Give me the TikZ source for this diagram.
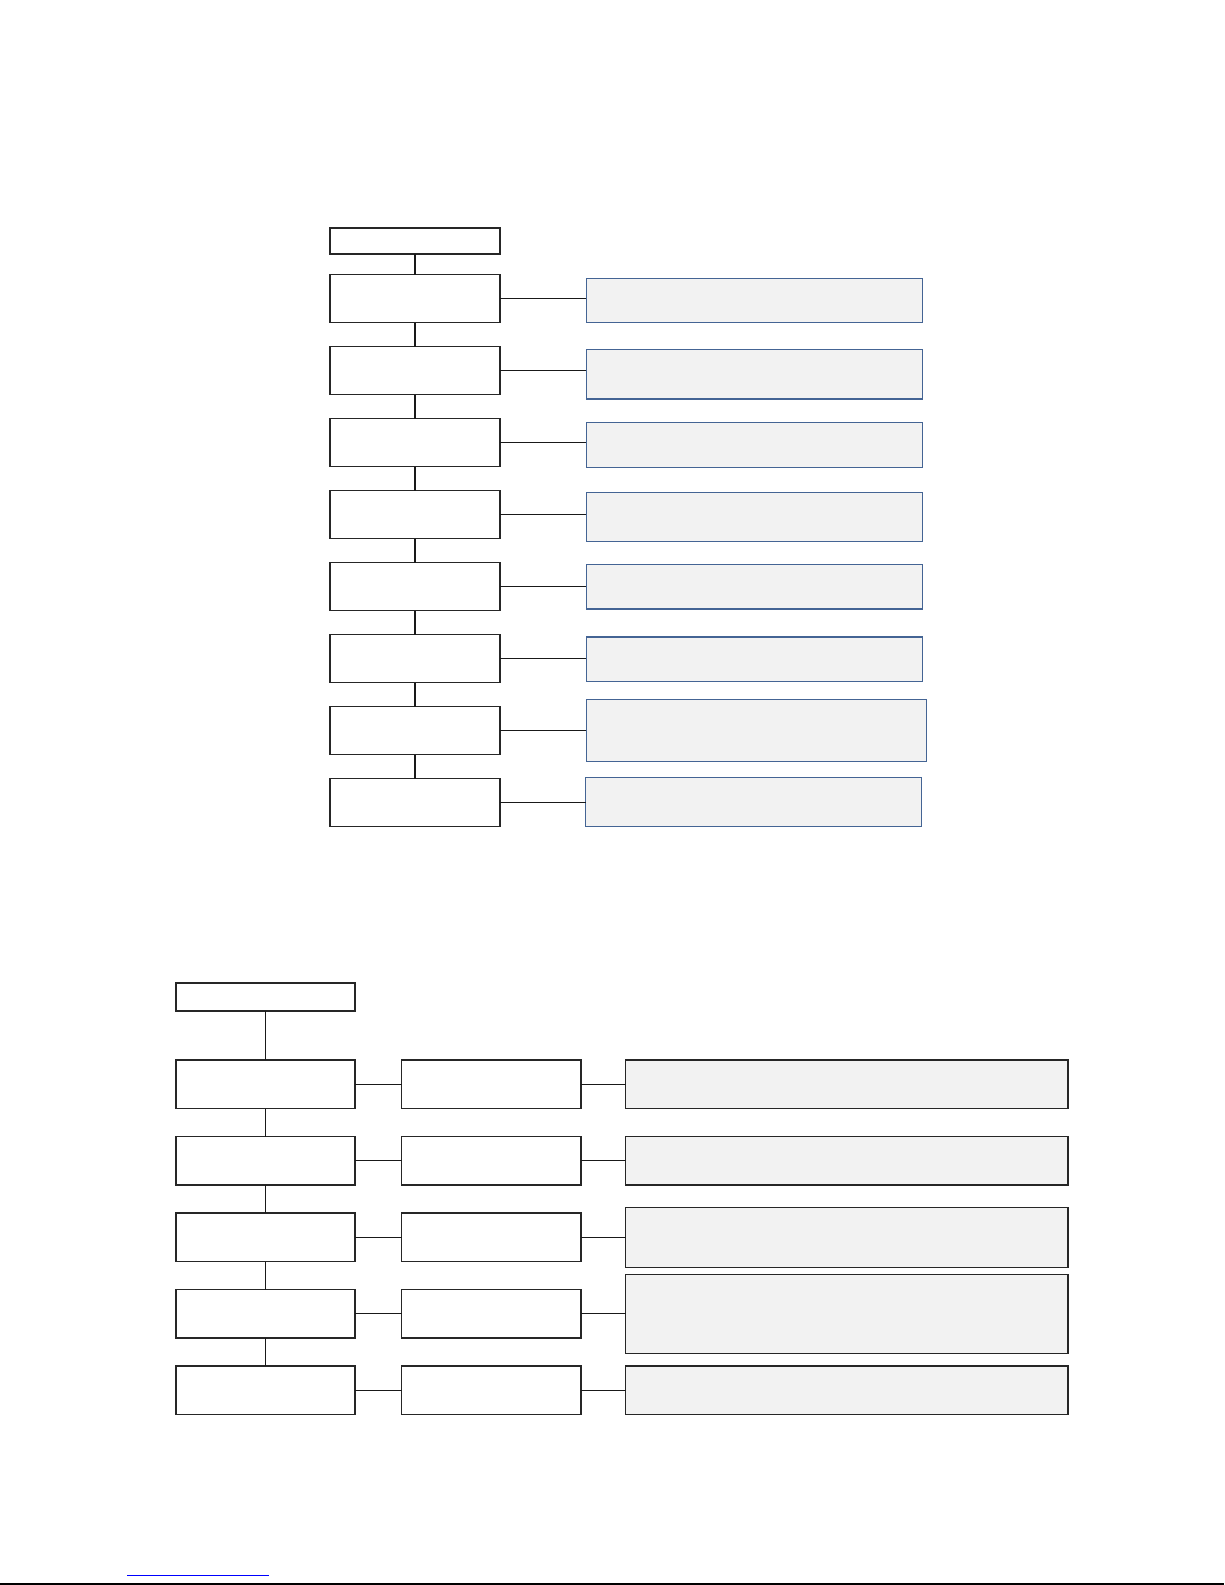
\documentclass[tikz,border=0pt]{standalone}
\usepackage{tikz}
\usetikzlibrary{positioning}
\definecolor{notefill}{RGB}{242,242,242}
\definecolor{noteline}{RGB}{68,100,148}

\begin{document}
\begin{tikzpicture}[
  x=1pt,y=-1pt,
  box/.style={draw=black!85,line width=1.2pt,inner sep=0pt,outer sep=0pt,minimum width=170pt,minimum height=48pt},
  headbox/.style={box,minimum height=26pt},
  note/.style={draw=noteline,line width=1.2pt,fill=notefill,inner sep=0pt,outer sep=0pt,minimum width=336pt},
  bbox/.style={box,minimum width=179pt,minimum height=48.5pt},
  wide/.style={draw=black!85,line width=1.2pt,fill=notefill,inner sep=0pt,outer sep=0pt,minimum width=442.3pt},
  link/.style={black!90,line width=1.2pt}
]
\useasboundingbox (0,0) rectangle (1225,1585);

% upper chart
\node[headbox] (top) at (415,241) {};
\node[box,below=20.7pt of top] (s1) {};
\node[box,below=24pt of s1] (s2) {};
\node[box,below=24pt of s2] (s3) {};
\node[box,below=24pt of s3] (s4) {};
\node[box,below=24pt of s4] (s5) {};
\node[box,below=24pt of s5] (s6) {};
\node[box,below=24pt of s6] (s7) {};
\node[box,below=24pt of s7] (s8) {};
\node[note,minimum height=44pt,right=86.3pt of s1,yshift=-1.6pt] (n1) {};
\node[note,minimum height=49.7pt,right=86.3pt of s2,yshift=-3.5pt] (n2) {};
\node[note,minimum height=44.5pt,right=86.3pt of s3,yshift=-2.3pt] (n3) {};
\node[note,minimum height=48.6pt,right=86.3pt of s4,yshift=-2.1pt] (n4) {};
\node[note,minimum height=44.5pt,right=86.3pt of s5] (n5) {};
\node[note,minimum height=44.6pt,right=86.3pt of s6,yshift=-0.6pt] (n6) {};
\node[note,minimum height=62pt,minimum width=340pt,right=86.3pt of s7,yshift=0.6pt] (n7) {};
\node[note,minimum height=49pt,right=86.3pt of s8,xshift=-0.6pt,yshift=0.5pt] (n8) {};
\draw[link] (top) -- (s1) -- (s2) -- (s3) -- (s4) -- (s5) -- (s6) -- (s7) -- (s8);
\draw[link] (s1.east) -- (s1.east -| n1.west);
\draw[link] (s2.east) -- (s2.east -| n2.west);
\draw[link] (s3.east) -- (s3.east -| n3.west);
\draw[link] (s4.east) -- (s4.east -| n4.west);
\draw[link] (s5.east) -- (s5.east -| n5.west);
\draw[link] (s6.east) -- (s6.east -| n6.west);
\draw[link] (s7.east) -- (s7.east -| n7.west);
\draw[link] (s8.east) -- (s8.east -| n8.west);

% lower chart
\node[bbox,minimum height=28pt] (head) at (265.5,997) {};
\node[bbox,below=49pt of head] (p1) {};
\node[bbox,below=28pt of p1] (p2) {};
\node[bbox,below=28pt of p2] (p3) {};
\node[bbox,below=28pt of p3] (p4) {};
\node[bbox,below=28pt of p4] (p5) {};
\node[bbox,minimum width=179.3pt,right=46.7pt of p1] (q1) {};
\node[bbox,minimum width=179.3pt,right=46.7pt of p2] (q2) {};
\node[bbox,minimum width=179.3pt,right=46.7pt of p3] (q3) {};
\node[bbox,minimum width=179.3pt,right=46.7pt of p4] (q4) {};
\node[bbox,minimum width=179.3pt,right=46.7pt of p5] (q5) {};
\node[wide,minimum height=48.6pt,right=44.7pt of q1] (d1) {};
\node[wide,minimum height=48.5pt,right=44.7pt of q2] (d2) {};
\node[wide,minimum height=60.3pt,right=44.7pt of q3] (d3) {};
\node[wide,minimum height=78.7pt,right=44.7pt of q4] (d4) {};
\node[wide,minimum height=48.5pt,right=44.7pt of q5] (d5) {};
\draw[link] (head) -- (p1) -- (p2) -- (p3) -- (p4) -- (p5);
\draw[link] (p1) -- (q1) -- (d1);
\draw[link] (p2) -- (q2) -- (d2);
\draw[link] (p3) -- (q3) -- (d3);
\draw[link] (p4) -- (q4) -- (d4);
\draw[link] (p5) -- (q5) -- (d5);

% page rules
\draw[blue,line width=1.5pt] (127,1575.3) -- (269,1575.3);
\draw[line width=2pt] (0,1584) -- (1224,1584);
\end{tikzpicture}
\end{document}
